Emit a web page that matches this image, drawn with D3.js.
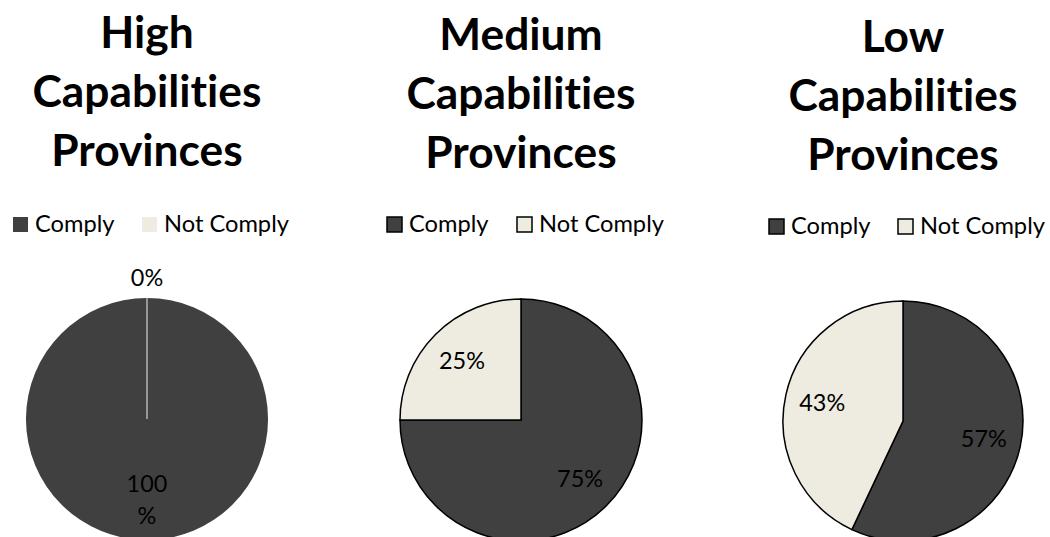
<!DOCTYPE html>
<html>
<head>
<meta charset="utf-8">
<script src="https://cdn.jsdelivr.net/npm/d3@7"></script>
<style>
  html, body { margin: 0; padding: 0; background: #fff; }
  svg { display: block; }
  text { font-family: Lato, "Open Sans", sans-serif; font-variant-ligatures: none; font-feature-settings: "liga" 0; }
</style>
</head>
<body>
<svg id="chart" width="1050" height="537"></svg>
<script>
// ---- data ----
const titleLines = [
  ["High", "Capabilities", "Provinces"],
  ["Medium", "Capabilities", "Provinces"],
  ["Low", "Capabilities", "Provinces"]
];
const categories = ["Comply", "Not Comply"];
const complyValues = [100, 75, 57];
const notComplyValues = [0, 25, 43];

// ---- layout ----
const centersX = [147, 521, 903];
const centersY = [419, 420, 421];
const radii = [121, 121, 120];
const titleBaseY = [48, 50, 52];
const legendX = [[13, 142], [387, 517], [769, 898]];
const legendY = [217, 217, 219];
const outlined = [false, true, true];
const colors = d3.scaleOrdinal().domain(categories).range(["#404040", "#EEECE1"]);

const svg = d3.select("#chart");

function fitSize(txt, weight, target) {
  const t = svg.append("text").attr("font-size", 40).attr("font-weight", weight).text(txt);
  const w = t.node().getComputedTextLength();
  t.remove();
  return 40 * target / w;
}
const titleSize = fitSize("Capabilities", "bold", 229);
const legendSize = fitSize("Not Comply", "normal", 125);
const labelSize = fitSize("25%", "normal", 46);

const pie = d3.pie().sort(null).value(d => d.value);

titleLines.forEach((lines, i) => {
  const g = svg.append("g");
  const cx = centersX[i], cy = centersY[i], r = radii[i];

  g.selectAll("text.title").data(lines).join("text")
    .attr("class", "title")
    .attr("x", cx)
    .attr("y", (d, j) => titleBaseY[i] + j * 59)
    .attr("text-anchor", "middle")
    .attr("font-weight", "bold")
    .attr("font-size", titleSize)
    .attr("fill", "#000")
    .text(d => d);

  const leg = g.selectAll("g.leg").data(categories).join("g")
    .attr("class", "leg")
    .attr("transform", (d, j) => `translate(${legendX[i][j]},${legendY[i]})`);
  leg.append("rect")
    .attr("width", 15).attr("height", 15)
    .attr("fill", d => colors(d))
    .attr("stroke", outlined[i] ? "#000" : "none")
    .attr("stroke-width", 1.5);
  leg.append("text")
    .attr("x", 22).attr("y", 15)
    .attr("font-size", legendSize)
    .attr("fill", "#000")
    .text(d => d);

  const data = [
    { key: categories[0], value: complyValues[i] },
    { key: categories[1], value: notComplyValues[i] }
  ];
  const arcs = pie(data);
  const arc = d3.arc().innerRadius(0).outerRadius(r);
  const labelArc = d3.arc().innerRadius(r * 0.69).outerRadius(r * 0.69);
  const outerLabelArc = d3.arc().innerRadius(r + 20).outerRadius(r + 20);

  const pg = g.append("g").attr("transform", `translate(${cx},${cy})`);
  pg.selectAll("path").data(arcs).join("path")
    .attr("d", arc)
    .attr("fill", d => colors(d.data.key))
    .attr("stroke", d => outlined[i] ? "#000" : (d.data.value === 0 ? "#b4b4b4" : "none"))
    .attr("stroke-width", 1.5);

  arcs.forEach(a => {
    const pct = Math.round(a.data.value) + "%";
    if (a.data.value === 0) {
      const [x, y] = outerLabelArc.centroid(a);
      pg.append("text").attr("x", x).attr("y", y).attr("dy", "0.35em")
        .attr("text-anchor", "middle").attr("font-size", labelSize).attr("fill", "#000")
        .text(pct);
    } else if (a.data.value === 100) {
      const [x, y] = labelArc.centroid(a);
      const t = pg.append("text").attr("text-anchor", "middle")
        .attr("font-size", labelSize).attr("fill", "#000");
      t.append("tspan").attr("x", x).attr("y", y - 19).attr("dy", "0.35em").text(String(Math.round(a.data.value)));
      t.append("tspan").attr("x", x).attr("y", y + 13).attr("dy", "0.35em").text("%");
    } else {
      const [x, y] = labelArc.centroid(a);
      pg.append("text").attr("x", x).attr("y", y).attr("dy", "0.35em")
        .attr("text-anchor", "middle").attr("font-size", labelSize).attr("fill", "#000")
        .text(pct);
    }
  });
});
</script>
</body>
</html>
